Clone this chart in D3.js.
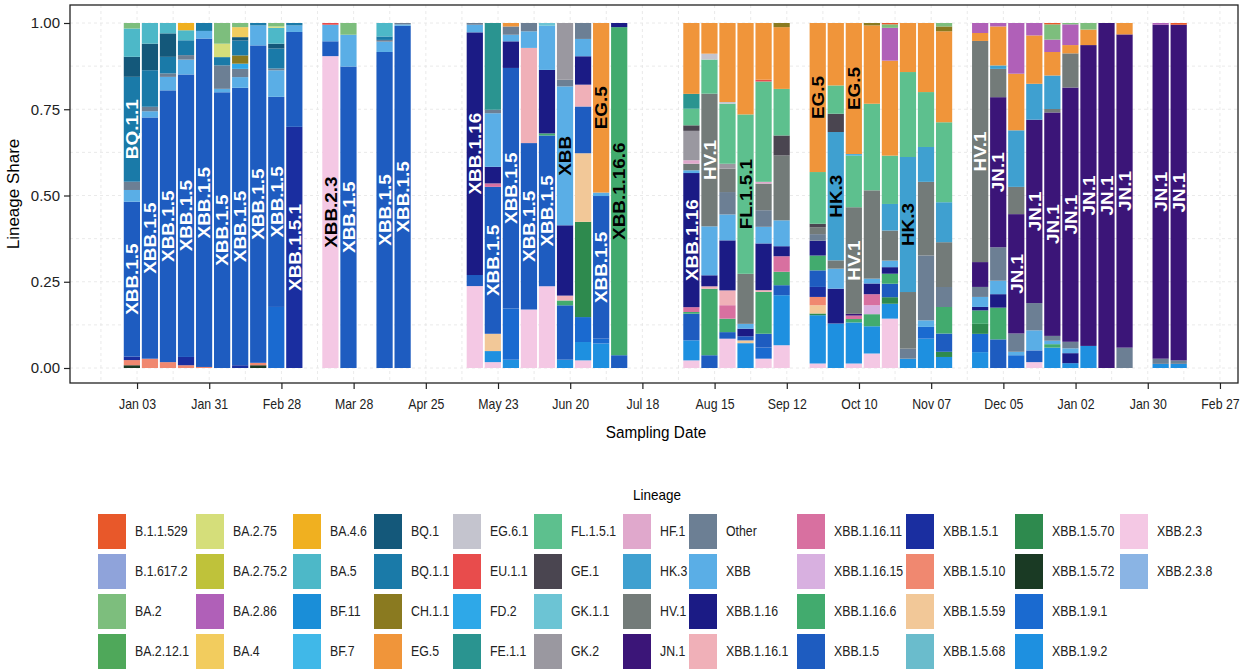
<!DOCTYPE html>
<html>
<head>
<meta charset="utf-8">
<script src="https://cdn.jsdelivr.net/npm/d3@7"></script>
<style>
  body { margin: 0; background: #fff; font-family: "Liberation Sans", Arial, Helvetica, sans-serif; }
</style>
</head>
<body>
<div id="chart"></div>
<script>
// lineages, in legend (alphabetical) order
const lineages = [
  "B.1.1.529","B.1.617.2","BA.2","BA.2.12.1","BA.2.75","BA.2.75.2","BA.2.86","BA.4",
  "BA.4.6","BA.5","BF.11","BF.7","BQ.1","BQ.1.1","CH.1.1","EG.5",
  "EG.6.1","EU.1.1","FD.2","FE.1.1","FL.1.5.1","GE.1","GK.1.1","GK.2",
  "HF.1","HK.3","HV.1","JN.1","Other","XBB","XBB.1.16","XBB.1.16.1",
  "XBB.1.16.11","XBB.1.16.15","XBB.1.16.6","XBB.1.5","XBB.1.5.1","XBB.1.5.10","XBB.1.5.59","XBB.1.5.68",
  "XBB.1.5.70","XBB.1.5.72","XBB.1.9.1","XBB.1.9.2","XBB.2.3","XBB.2.3.8"
];
const lineageColors = [
  "#e8582a","#8fa3da","#7dbe7d","#4fa85a","#d5de7a","#bfc23a","#b060b8","#f2cc5e",
  "#f0b020","#4db8c8","#1a8ed8","#40b8e8","#14587a","#1a7aa8","#8a7a20","#f0953a",
  "#c4c4ce","#e84c4c","#2ea8e8","#2a9490","#5dc08e","#4a4550","#6cc4d4","#9a98a0",
  "#e0a8cc","#3fa0d0","#737b79","#3b1578","#6c7f94","#5aaee6","#1b1b85","#f0b0b8",
  "#d870a0","#d8b0e0","#42ab6e","#1e5cc0","#1a2ea0","#f08870","#f2c898","#6abccc",
  "#2e8a4e","#1a3a24","#1a6ad0","#1e90e0","#f4c8e4","#8ab4e4"
];

// weekly sampling dates (one bar each)
const sampleDates = [
  "2023-01-01","2023-01-08","2023-01-15","2023-01-22","2023-01-29","2023-02-05","2023-02-12","2023-02-19","2023-02-26","2023-03-05",
  "2023-03-19","2023-03-26","2023-04-09","2023-04-16",
  "2023-05-14","2023-05-21","2023-05-28","2023-06-04","2023-06-11","2023-06-18","2023-06-25","2023-07-02","2023-07-09",
  "2023-08-06","2023-08-13","2023-08-20","2023-08-27","2023-09-03","2023-09-10",
  "2023-09-24","2023-10-01","2023-10-08","2023-10-15","2023-10-22","2023-10-29","2023-11-05","2023-11-12",
  "2023-11-26","2023-12-03","2023-12-10","2023-12-17","2023-12-24","2023-12-31","2024-01-07","2024-01-14","2024-01-21","2024-02-04","2024-02-11"
];

// lineage shares per sampling date (same order as sampleDates)
const shares = [
  {"BA.2":.016,"BA.5":.082,"BQ.1":.058,"BQ.1.1":.304,"Other":.024,"XBB":.034,"XBB.1.5":.449,"XBB.1.5.1":.01,"XBB.1.5.10":.015,"XBB.1.5.72":.008},
  {"BA.5":.06,"BQ.1":.077,"BQ.1.1":.106,"Other":.013,"XBB":.018,"XBB.1.5":.70,"XBB.1.5.10":.027},
  {"BA.5":.03,"BQ.1":.068,"BQ.1.1":.048,"Other":.01,"XBB":.039,"XBB.1.5":.787,"XBB.1.5.10":.017},
  {"BA.4.6":.021,"BA.5":.029,"BQ.1.1":.043,"Other":.013,"XBB":.043,"XBB.1.5":.818,"XBB.1.5.1":.024,"XBB.1.5.10":.008},
  {"BQ.1.1":.023,"XBB":.022,"XBB.1.5":.952,"XBB.1.5.10":.003},
  {"BA.2":.06,"BA.2.75":.039,"BQ.1.1":.024,"Other":.068,"XBB":.01,"XBB.1.5":.80},
  {"BA.2":.012,"BA.4":.029,"BQ.1":.01,"BQ.1.1":.043,"CH.1.1":.024,"FD.2":.015,"Other":.024,"XBB":.031,"XBB.1.5":.805,"XBB.1.5.1":.008},
  {"BQ.1.1":.007,"XBB":.058,"XBB.1.5":.921,"XBB.1.5.10":.007,"XBB.1.5.72":.008},
  {"BA.2":.01,"BA.2.75":.004,"BA.5":.046,"BQ.1":.014,"BQ.1.1":.058,"Other":.005,"XBB":.077,"XBB.1.5":.609,"XBB.1.9.1":.177},
  {"BQ.1.1":.007,"XBB":.019,"XBB.1.5":.275,"XBB.1.5.1":.699},

  {"EU.1.1":.005,"XBB":.048,"XBB.1.5":.043,"XBB.2.3":.904},
  {"BA.2":.034,"XBB":.092,"XBB.1.5":.873},
  {"BA.5":.039,"BQ.1.1":.01,"Other":.005,"XBB":.03,"XBB.1.5":.916},
  {"Other":.004,"XBB":.004,"XBB.1.5":.992},

  {"Other":.005,"XBB":.022,"XBB.1.16":.702,"XBB.1.5":.032,"XBB.2.3":.237},
  {"FE.1.1":.251,"Other":.01,"XBB":.155,"XBB.1.16":.048,"XBB.1.16.11":.01,"XBB.1.5":.425,"XBB.1.5.59":.05,"XBB.1.9.2":.032,"XBB.2.3":.017},
  {"EG.5":.01,"Other":.024,"XBB":.019,"XBB.1.16":.077,"XBB.1.5":.696,"XBB.1.9.1":.148,"XBB.1.9.2":.024},
  {"Other":.024,"XBB":.048,"XBB.1.16.1":.275,"XBB.1.5":.481,"XBB.2.3":.169},
  {"GK.1.1":.008,"XBB":.128,"XBB.1.16":.184,"XBB.1.16.6":.006,"XBB.1.5":.437,"XBB.2.3":.237},
  {"GK.2":.164,"Other":.019,"XBB":.401,"XBB.1.16":.203,"XBB.1.16.1":.014,"XBB.1.16.6":.014,"XBB.1.5":.157,"XBB.1.9.2":.024},
  {"Other":.046,"XBB":.05,"XBB.1.16":.082,"XBB.1.16.1":.063,"XBB.1.5":.135,"XBB.1.5.59":.198,"XBB.1.5.70":.275,"XBB.1.9.1":.072,"XBB.1.9.2":.053,"XBB.2.3":.022},
  {"EG.5":.491,"XBB":.01,"XBB.1.5":.413,"XBB.1.9.1":.014,"XBB.1.9.2":.071},
  {"XBB.1.16":.012,"XBB.1.16.6":.95,"XBB.1.5":.037},

  {"EG.5":.205,"FE.1.1":.043,"FL.1.5.1":.048,"GE.1":.016,"GK.2":.085,"HF.1":.01,"HV.1":.019,"XBB":.008,"XBB.1.16":.388,"XBB.1.16.11":.014,"XBB.1.16.6":.005,"XBB.1.5":.077,"XBB.1.9.2":.058,"XBB.2.3":.022},
  {"EG.5":.089,"EG.6.1":.017,"FL.1.5.1":.099,"HV.1":.385,"XBB":.142,"XBB.1.16":.032,"XBB.1.16.1":.007,"XBB.1.16.6":.193,"XBB.1.5":.037},
  {"EG.5":.229,"EG.6.1":.005,"FL.1.5.1":.174,"GK.2":.014,"HV.1":.068,"Other":.065,"XBB":.075,"XBB.1.16":.145,"XBB.1.16.1":.043,"XBB.1.16.11":.039,"XBB.1.16.6":.039,"XBB.1.5":.019,"XBB.2.3":.085},
  {"EG.5":.265,"FL.1.5.1":.462,"HV.1":.145,"XBB":.014,"XBB.1.16":.022,"XBB.1.5":.012,"XBB.1.5.59":.008,"XBB.1.9.2":.072},
  {"EG.5":.164,"EU.1.1":.005,"FL.1.5.1":.29,"HF.1":.005,"HV.1":.077,"Other":.048,"XBB":.048,"XBB.1.16":.135,"XBB.1.16.1":.005,"XBB.1.16.6":.121,"XBB.1.5":.04,"XBB.1.9.1":.032,"XBB.2.3":.027},
  {"CH.1.1":.012,"EG.5":.179,"FL.1.5.1":.135,"GE.1":.058,"HV.1":.188,"XBB":.075,"XBB.1.16":.029,"XBB.1.16.11":.045,"XBB.1.16.6":.039,"XBB.1.5":.029,"XBB.1.9.2":.145,"XBB.2.3":.066},

  {"EG.5":.432,"FL.1.5.1":.15,"GE.1":.01,"HV.1":.02,"Other":.019,"XBB.1.16":.043,"XBB.1.16.6":.043,"XBB.1.5":.048,"XBB.1.5.1":.029,"XBB.1.5.10":.024,"XBB.1.5.59":.024,"XBB.1.5.70":.005,"XBB.1.9.2":.14,"XBB.2.3":.013},
  {"EG.5":.181,"FL.1.5.1":.082,"GE.1":.053,"HK.3":.372,"HV.1":.024,"XBB":.058,"XBB.1.16":.101,"XBB.1.9.2":.129},
  {"FD.2":.004,"EG.5":.38,"FL.1.5.1":.15,"HV.1":.309,"JN.1":.005,"XBB.1.16.11":.01,"XBB.1.16.6":.01,"XBB.1.9.2":.119,"XBB.2.3":.013},
  {"CH.1.1":.007,"EG.5":.227,"FL.1.5.1":.251,"HV.1":.256,"XBB":.014,"XBB.1.16":.031,"XBB.1.16.11":.032,"XBB.1.16.15":.026,"XBB.1.16.6":.035,"XBB.1.9.2":.079,"XBB.2.3":.042},
  {"B.1.1.529":.004,"BA.2":.01,"BA.2.86":.095,"EG.5":.275,"FL.1.5.1":.14,"HK.3":.077,"HV.1":.087,"XBB":.019,"XBB.1.16":.019,"XBB.1.16.6":.029,"XBB.1.5":.039,"XBB.1.5.70":.019,"XBB.1.9.2":.043,"XBB.2.3":.143},
  {"EG.5":.142,"FL.1.5.1":.246,"HK.3":.391,"HV.1":.164,"Other":.029,"XBB.1.9.2":.027},
  {"EG.5":.20,"FL.1.5.1":.159,"HK.3":.101,"HV.1":.213,"Other":.188,"XBB":.019,"XBB.1.9.1":.034,"XBB.1.9.2":.085},
  {"BA.2":.01,"CH.1.1":.014,"EG.5":.264,"FL.1.5.1":.232,"HK.3":.116,"HV.1":.13,"Other":.058,"XBB.1.16.6":.077,"XBB.1.5":.053,"XBB.1.5.70":.015,"XBB.1.9.2":.032},

  {"BA.2.86":.029,"EG.5":.023,"HV.1":.641,"JN.1":.072,"Other":.029,"XBB":.029,"XBB.1.16":.01,"XBB.1.16.6":.039,"XBB.1.5.70":.029,"XBB.1.9.1":.053,"XBB.1.9.2":.046},
  {"BA.2.86":.01,"EG.5":.113,"HK.3":.01,"HV.1":.082,"JN.1":.435,"Other":.097,"XBB":.039,"XBB.1.16":.039,"XBB.1.16.6":.092,"XBB.1.5":.083},
  {"BA.2.86":.147,"EG.5":.164,"HK.3":.164,"HV.1":.079,"JN.1":.346,"Other":.053,"XBB":.01,"XBB.1.9.1":.037},
  {"BA.2.86":.036,"EG.5":.14,"HK.3":.104,"JN.1":.531,"Other":.079,"XBB":.058,"XBB.1.5":.034,"XBB.2.3":.017},
  {"B.1.1.529":.004,"BA.2":.044,"BA.2.86":.036,"EG.5":.068,"HK.3":.097,"HV.1":.01,"JN.1":.647,"Other":.014,"XBB":.01,"XBB.1.16.6":.01,"XBB.1.9.2":.059},
  {"BA.2":.004,"BA.2.86":.06,"EG.5":.024,"HV.1":.099,"JN.1":.737,"Other":.019,"XBB":.014,"XBB.1.16":.029,"XBB.1.9.2":.014},
  {"BA.2":.019,"EG.5":.045,"JN.1":.872,"XBB.1.9.2":.064},
  {"JN.1":1.0},
  {"EG.5":.033,"JN.1":.908,"Other":.059},
  {"BA.2.86":.005,"JN.1":.968,"Other":.015,"XBB.1.9.2":.012},
  {"B.1.1.529":.005,"JN.1":.973,"Other":.01,"XBB.1.9.2":.012}
];

const dateTicks = ["2023-01-03","2023-01-31","2023-02-28","2023-03-28","2023-04-25","2023-05-23","2023-06-20","2023-07-18",
  "2023-08-15","2023-09-12","2023-10-10","2023-11-07","2023-12-05","2024-01-02","2024-01-30","2024-02-27"];
const shareTicks = [0, 0.25, 0.5, 0.75, 1];
const labelMin = 0.3;   // segments at least this big get a name

const width = 1249, height = 670;
const panel = {left: 70, top: 5, right: 1238, bottom: 383};
const parse = d3.utcParse("%Y-%m-%d");
const font = '"Liberation Sans", Arial, Helvetica, sans-serif';

const svg = d3.select("#chart").append("svg")
    .attr("width", width)
    .attr("height", height)
    .style("font-family", font);

const x = d3.scaleUtc()
    .domain([parse("2022-12-08"), parse("2024-03-05")])
    .range([panel.left, panel.right]);
const y = d3.scaleLinear().domain([0, 1]).range([368, 23]);
const color = d3.scaleOrdinal().domain(lineages).range(lineageColors);

// grid
const grid = svg.append("g").attr("stroke", "#e4e4e4").attr("stroke-dasharray", "3,3").attr("stroke-width", 0.8);
const yGrid = shareTicks.concat([0.125, 0.375, 0.625, 0.875]);
grid.selectAll(".gy").data(yGrid).enter().append("line")
    .attr("x1", panel.left).attr("x2", panel.right)
    .attr("y1", d => y(d)).attr("y2", d => y(d));
const xGrid = dateTicks.map(parse);
dateTicks.forEach(t => xGrid.push(d3.utcDay.offset(parse(t), -14)));
grid.selectAll(".gx").data(xGrid).enter().append("line")
    .attr("x1", d => x(d)).attr("x2", d => x(d))
    .attr("y1", panel.top).attr("y2", panel.bottom);

// stacked bars: first lineage on top, as in the legend order
const rows = sampleDates.map((d, i) => Object.assign({date: parse(d)}, shares[i]));
const stackKeys = lineages.slice().reverse();
const series = d3.stack()
    .keys(stackKeys)
    .value((d, k) => d[k] || 0)
    .offset(d3.stackOffsetExpand)(rows);

const barW = x(d3.utcHour.offset(parse("2023-01-01"), 151)) - x(parse("2023-01-01"));

svg.append("g").selectAll("g")
  .data(series)
  .enter().append("g")
    .attr("fill", d => color(d.key))
  .selectAll("rect")
  .data(d => d.filter(s => s[1] - s[0] > 0))
  .enter().append("rect")
    .attr("x", d => x(d.data.date) - barW / 2)
    .attr("width", barW)
    .attr("y", d => y(d[1]))
    .attr("height", d => y(d[0]) - y(d[1]));

// names of the big segments
const labels = [];
series.forEach(s => {
  s.forEach(seg => {
    if (seg[1] - seg[0] >= labelMin) labels.push({key: s.key, date: seg.data.date, mid: (seg[0] + seg[1]) / 2});
  });
});
function textColor(key) {
  const c = d3.rgb(color(key));
  return (0.299 * c.r + 0.587 * c.g + 0.114 * c.b) > 128 ? "#000" : "#fff";
}
svg.append("g").selectAll("text")
  .data(labels)
  .enter().append("text")
    .attr("transform", d => "translate(" + (x(d.date) + 0.5) + "," + y(d.mid) + ") rotate(-90) scale(1.18,1)")
    .attr("text-anchor", "middle")
    .attr("dy", "0.36em")
    .attr("font-size", 16)
    .attr("font-weight", "bold")
    .attr("fill", d => textColor(d.key))
    .text(d => d.key);

// panel border
svg.append("rect")
    .attr("x", panel.left).attr("y", panel.top)
    .attr("width", panel.right - panel.left).attr("height", panel.bottom - panel.top)
    .attr("fill", "none").attr("stroke", "#222").attr("stroke-width", 1.3);

// axes
const yAxis = svg.append("g")
    .attr("transform", "translate(" + panel.left + ",0)")
    .call(d3.axisLeft(y).tickValues(shareTicks).tickFormat(d3.format(".2f")).tickSize(6).tickPadding(4));
yAxis.select(".domain").remove();
yAxis.selectAll("line").attr("stroke", "#222").attr("stroke-width", 1.2);
yAxis.selectAll("text").attr("font-size", 15).attr("fill", "#222").style("font-family", font);

const xAxis = svg.append("g")
    .attr("transform", "translate(0," + panel.bottom + ")")
    .call(d3.axisBottom(x).tickValues(dateTicks.map(parse)).tickFormat(d3.utcFormat("%b %d")).tickSize(6).tickPadding(10));
xAxis.select(".domain").remove();
xAxis.selectAll("line").attr("stroke", "#222").attr("stroke-width", 1.2);
xAxis.selectAll("text").attr("font-size", 14).attr("fill", "#222")
    .attr("transform", "scale(0.88,1)").style("font-family", font);

svg.append("text")
    .attr("transform", "translate(19," + ((panel.top + panel.bottom) / 2) + ") rotate(-90)")
    .attr("text-anchor", "middle")
    .attr("font-size", 17)
    .text("Lineage Share");

svg.append("text")
    .attr("transform", "translate(" + ((panel.left + panel.right) / 2 + 2) + ",438) scale(0.9,1)")
    .attr("text-anchor", "middle")
    .attr("font-size", 17)
    .text("Sampling Date");

// legend, 4 rows filled column by column
const legendColX = [98, 196, 293, 374, 453, 534, 623, 689, 797, 906, 1015, 1120];
const legend = svg.append("g");
legend.append("text")
    .attr("transform", "translate(657,500) scale(0.9,1)")
    .attr("text-anchor", "middle")
    .attr("font-size", 15)
    .text("Lineage");
const item = legend.selectAll(".item")
  .data(lineages)
  .enter().append("g")
    .attr("transform", (d, i) => "translate(" + legendColX[Math.floor(i / 4)] + "," + (514 + (i % 4) * 40) + ")");
item.append("rect")
    .attr("width", 28).attr("height", 35)
    .attr("fill", d => color(d));
item.append("text")
    .attr("transform", "translate(37,17.5) scale(0.88,1)")
    .attr("dy", "0.35em")
    .attr("font-size", 14)
    .attr("fill", "#222")
    .text(d => d);
</script>
</body>
</html>
